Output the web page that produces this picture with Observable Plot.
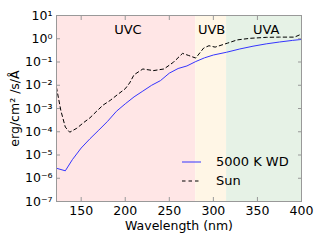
<!DOCTYPE html>
<html><head><meta charset="utf-8">
<script src="https://cdn.jsdelivr.net/npm/d3@7"></script>
<script src="https://cdn.jsdelivr.net/npm/@observablehq/plot@0.6"></script>
<style>
body{margin:0;background:#fff;}
#c{position:relative;width:320px;height:240px;font-family:"DejaVu Sans",sans-serif;}
#legend{position:absolute;left:182px;top:152px;font-size:13px;color:#000;}
#legend div{display:flex;align-items:center;height:19px;}
#legend svg{margin-right:15px;}
</style>
</head><body><div id="c"></div>
<script>
// 5000 K white dwarf spectrum (log10 erg/cm^2/s/Å)
const wdWave = [122,132,140,150,160,170,180,190,200,210,220,230,240,250,260,270,280,290,300,315,330,345,360,375,390,400];
const wdLogFlux = [-5.57,-5.68,-5.2,-4.7,-4.3,-3.93,-3.55,-3.12,-2.8,-2.5,-2.25,-2.0,-1.8,-1.48,-1.28,-1.17,-0.98,-0.82,-0.7,-0.58,-0.44,-0.32,-0.22,-0.14,-0.07,-0.03];
// Sun spectrum
const sunWave = [122,127,132,137,145,153,160,168,175,183,192,200,205,210,220,232,244,255,265,272,280,289,295,302,316,327,342,360,375,392,400];
const sunLogFlux = [-2.1,-3.1,-3.8,-4.02,-3.85,-3.6,-3.4,-3.1,-2.85,-2.65,-2.38,-2.15,-1.9,-1.55,-1.3,-1.37,-1.3,-1.0,-0.63,-0.72,-0.83,-0.4,-0.3,-0.36,-0.19,-0.05,0.02,0.06,0.07,0.07,0.2];
// UV bands
const bandNames = ["UVC","UVB","UVA"];
const bandStart = [122,280,315];
const bandEnd = [280,315,400];
const bandLabelX = [203,298,360];
const bandColors = ["#ffe6e6","#fff6e6","#e6f2e6"];
const xTicks = [150,200,250,300,350,400];
const yTicks = [1e-7,1e-6,1e-5,1e-4,1e-3,1e-2,1e-1,1e0,1e1];

const wd = wdWave.map((w,i)=>({w, f:Math.pow(10, wdLogFlux[i])}));
const sun = sunWave.map((w,i)=>({w, f:Math.pow(10, sunLogFlux[i])}));
const bands = bandNames.map((n,i)=>({n, x1:bandStart[i], x2:bandEnd[i], lx:bandLabelX[i], c:bandColors[i]}));

const sup = {"-":"⁻","0":"⁰","1":"¹","2":"²","3":"³","4":"⁴","5":"⁵","6":"⁶","7":"⁷","8":"⁸","9":"⁹"};
const fmtY = d => "10" + String(Math.round(Math.log10(d))).split("").map(c=>sup[c]).join("");

const plot = Plot.plot({
  width:320, height:240,
  marginLeft:56, marginRight:19, marginTop:15, marginBottom:39,
  style:{fontFamily:"DejaVu Sans", fontSize:"12px", background:"white", color:"black"},
  x:{domain:[122,400]},
  y:{type:"log", domain:[1e-7,1e1]},
  color:{type:"identity"},
  marks:[
    Plot.rect(bands, {x1:"x1", x2:"x2", fill:"c"}),
    Plot.text(bands, {x:"lx", text:"n", frameAnchor:"top", dy:9, fontSize:13, fill:"black"}),
    Plot.line(wd, {x:"w", y:"f", stroke:"#3535ff", strokeWidth:1}),
    Plot.line(sun, {x:"w", y:"f", stroke:"black", strokeWidth:1, strokeDasharray:"3.5,3"}),
    Plot.frame({stroke:"#999"}),
    // inward ticks
    Plot.axisX({anchor:"bottom", ticks:xTicks, tickSize:4, dy:-4, tickFormat:()=>"", label:null, stroke:"#999"}),
    Plot.axisX({anchor:"top", ticks:xTicks, tickSize:4, dy:4, tickFormat:()=>"", label:null, stroke:"#999"}),
    Plot.axisY({anchor:"left", ticks:yTicks, tickSize:4, dx:4, tickFormat:()=>"", label:null, stroke:"#999"}),
    Plot.axisY({anchor:"right", ticks:yTicks, tickSize:4, dx:-4, tickFormat:()=>"", label:null, stroke:"#999"}),
    // labels
    Plot.axisX({anchor:"bottom", ticks:xTicks, tickSize:0, tickPadding:5, fontSize:12.5,
      label:"Wavelength (nm)", labelAnchor:"center", labelArrow:"none", labelOffset:28}),
    Plot.axisY({anchor:"left", ticks:yTicks, tickSize:0, tickPadding:4, tickFormat:fmtY, fontSize:12.5,
      label:"erg/cm² /s/Å", labelAnchor:"center", labelArrow:"none", labelOffset:46})
  ]
});
const c = document.getElementById("c");
c.appendChild(plot);
const lg = document.createElement("div");
lg.id = "legend";
lg.innerHTML = `<div><svg width="19" height="4"><line x1="0" x2="19" y1="2" y2="2" stroke="#3535ff" stroke-width="1"/></svg>5000 K WD</div>
<div><svg width="19" height="4"><line x1="0" x2="19" y1="2" y2="2" stroke="black" stroke-width="1" stroke-dasharray="3.5,3"/></svg>Sun</div>`;
c.appendChild(lg);
</script>
</body></html>
